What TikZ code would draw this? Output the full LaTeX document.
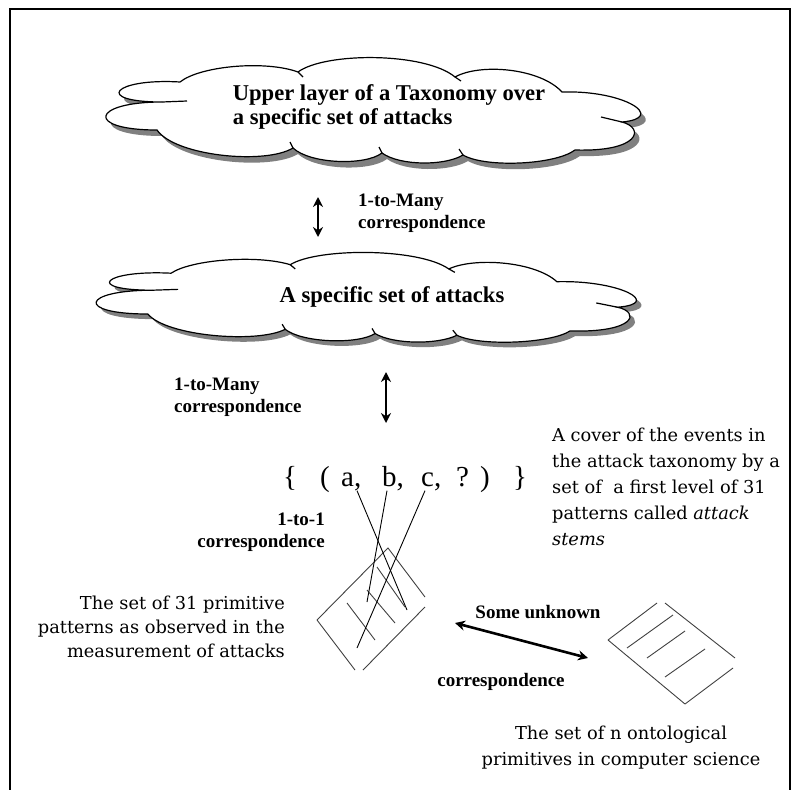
\documentclass[tikz,border=0pt]{standalone}
\usepackage{fontspec}
\setmainfont{Liberation Serif}
\newfontfamily\notefont{DejaVu Serif}
\usetikzlibrary{arrows.meta, positioning}
\tikzstyle{cloudline} = [line width=1.2pt, fill=white]
\tikzstyle{cloudshadow} = [fill=black!50, xshift=5pt, yshift=-6pt]
\tikzstyle{cloudtext} = [font=\fontsize{22.6}{24.5}\selectfont\bfseries, align=left, inner sep=0pt]
\tikzstyle{corr} = [font=\fontsize{19}{22.5}\selectfont\bfseries, inner sep=0pt]
\tikzstyle{note} = [font=\notefont\fontsize{17.8}{26}\selectfont, inner sep=0pt]
\tikzstyle{formula} = [font=\fontsize{29}{34}\selectfont, inner sep=0pt, anchor=base west]
\tikzstyle{arrow} = [line width=2.6pt, {Stealth[length=10pt,width=10pt]}-{Stealth[length=10pt,width=10pt]}]
\tikzstyle{sheet} = [line width=0.9pt, black!75]

% outline of a flat cloud, centred at the origin
\newcommand{\attackcloud}{(-195,-28) .. controls (-175,-44) and (-110,-50) .. (-77,-38)
    .. controls (-50,-58) and (50,-58) .. (80,-33)
    .. controls (105,-47) and (165,-42) .. (187,-18)
    .. controls (250,-20) and (292,8) .. (247,12)
    .. controls (270,18) and (265,42) .. (200,40)
    .. controls (180,55) and (110,58) .. (88,45)
    .. controls (70,56) and (25,56) .. (7,43)
    .. controls (-10,56) and (-65,54) .. (-82,38)
    .. controls (-110,55) and (-200,46) .. (-218,20)
    .. controls (-290,20) and (-284,-8) .. (-213,-8)
    .. controls (-282,-8) and (-262,-32) .. cycle}
\newcommand{\cloudtails}{(-213,-8) -- (-188,-9) (247,12) -- (226,7) (88,45) -- (84,39) (7,43) -- (4,37) (-82,38) -- (-85,32) (-77,-38) -- (-72,-33) (80,-33) -- (86,-29)}

\begin{document}
\begin{tikzpicture}[x=1pt, y=-1pt]
        \useasboundingbox (0,0) rectangle (801,790);
        % frame
        \draw [line width=2.5pt] (10,790) -- (10,9) -- (790,9) -- (790,790);

        % Clouds
        \begin{scope}[shift={(375,110)}]
            \fill [cloudshadow] \attackcloud;
            \filldraw [cloudline] \attackcloud;
            \draw [line width=1.2pt] \cloudtails;
        \end{scope}
        \node (uppertext) [cloudtext] at (389,107) {Upper layer of a Taxonomy over\\a specific set of attacks};
        \begin{scope}[shift={(368,297)}, yscale=0.85, xscale=1.01]
            \fill [cloudshadow] \attackcloud;
            \filldraw [cloudline] \attackcloud;
            \draw [line width=1.2pt] \cloudtails;
        \end{scope}
        \node (lowertext) [cloudtext] at (392,297) {A specific set of attacks};

        % Correspondences between the layers
        \coordinate (c1top) at (318,197);
        \coordinate (c1bot) at (318,237);
        \draw [arrow] (c1top) -- (c1bot);
        \node (corr1) [corr, anchor=west, align=left] at (358,213) {1-to-Many\\correspondence};
        \coordinate (c2top) at (386,372);
        \coordinate (c2bot) at (386,423);
        \draw [arrow] (c2top) -- (c2bot);
        \node (corr2) [corr, anchor=west, align=left] at (174,397) {1-to-Many\\correspondence};

        % The tuple
        \node (lb) [formula] at (283,486) {\{};
        \node (lp) [formula] at (320,486) {(};
        \node (a) [formula] at (341,486) {a,};
        \node (b) [formula] at (382,486) {b,};
        \node (c) [formula] at (421,486) {c,};
        \node (q) [formula] at (456,486) {?};
        \node (rp) [formula] at (480,486) {)};
        \node (rb) [formula] at (513,486) {\}};
        \node (cover) [note, anchor=west, align=left] at (552,487) {A cover of the events in\\the attack taxonomy by a\\set of\ \ a first level of 31\\patterns called \textit{attack}\\\textit{stems}};
        \node (corr3) [corr, anchor=east, align=right] at (325,532) {1-to-1\\correspondence};

        % Sheet of primitive patterns
        \draw [sheet] (317,620) -- (388,548) -- (425,597);
        \draw [sheet] (425,607) -- (363,670);
        \draw [sheet] (317,620) -- (355,670);
        \draw [sheet] (347,603) -- (375,640);
        \draw [sheet] (367,590) -- (395,623);
        \draw [sheet] (377,567) -- (405,607);
        \coordinate (aend) at (407,610);
        \coordinate (bend) at (367,602);
        \coordinate (cend) at (357,648);
        \draw [sheet, black] ([xshift=16pt]a.south west) -- (aend);
        \draw [sheet, black] ([xshift=5pt]b.south west) -- (bend);
        \draw [sheet, black] ([xshift=4pt]c.south west) -- (cend);
        \node (observed) [note, font=\notefont\fontsize{17.8}{24}\selectfont, anchor=east, align=right] at (285,627) {The set of 31 primitive\\patterns as observed in the\\measurement of attacks};

        % Sheet of ontological primitives
        \draw [sheet] (608,640) -- (657,603);
        \draw [sheet] (665,603) -- (735,658);
        \draw [sheet] (733,668) -- (685,704);
        \draw [sheet] (608,640) -- (685,704);
        \draw [sheet] (627,648) -- (673,615);
        \draw [sheet] (647,658) -- (685,631);
        \draw [sheet] (665,677) -- (705,649);
        \node (onto) [note, align=center] at (621,748) {The set of n ontological\\primitives in computer science};

        % Unknown correspondence
        \coordinate (unkl) at (455,623);
        \coordinate (unkr) at (588,658);
        \draw [arrow] (unkl) -- (unkr);
        \node (some) [corr] at (538,612) {Some unknown};
        \node (corr4) [corr] at (501,682) {correspondence};
    \end{tikzpicture}
\end{document}
